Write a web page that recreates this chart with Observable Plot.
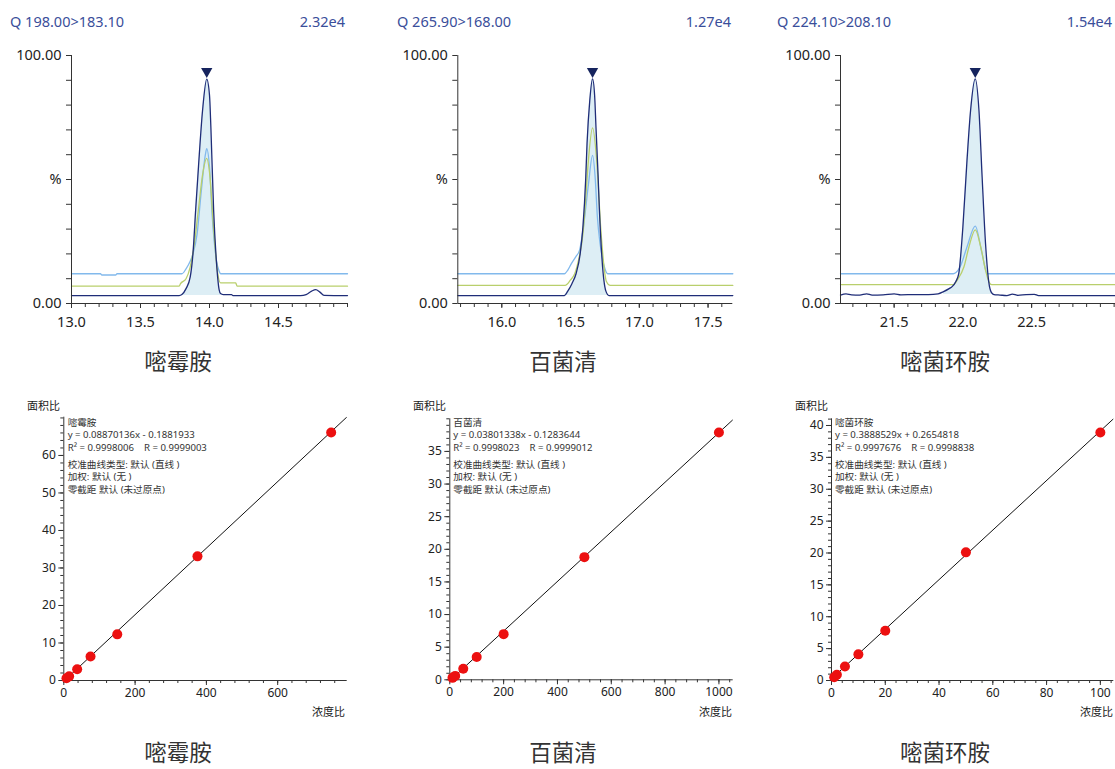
<!DOCTYPE html>
<html><head><meta charset="utf-8">
<script src="https://cdn.jsdelivr.net/npm/d3@7"></script>
<script src="https://cdn.jsdelivr.net/npm/@observablehq/plot@0.6"></script>
<style>
body{margin:0;background:#fff;font-family:"Noto Sans","Noto Sans CJK SC",sans-serif;}
#root{position:relative;width:1115px;height:769px;overflow:hidden;background:#fff;}
.abs{position:absolute;white-space:pre;}
.hdr{font-size:14.5px;color:#3a4e9a;line-height:18px;}
.name{font-size:22.5px;color:#333;line-height:24px;font-family:"Noto Sans CJK SC",sans-serif;}
.ann{font-size:9.6px;color:#333;line-height:12px;}
.axl{font-size:11px;color:#222;line-height:14px;font-family:"Noto Sans CJK SC",sans-serif;}
.wrap{position:absolute;}
</style></head><body><div id="root"></div>
<script>
// ---------- text ----------
const transitions = ["Q 198.00>183.10", "Q 265.90>168.00", "Q 224.10>208.10"];
const maxIntensity = ["2.32e4", "1.27e4", "1.54e4"];
const compounds = ["嘧霉胺", "百菌清", "嘧菌环胺"];
const equations = ["y = 0.08870136x - 0.1881933", "y = 0.03801338x - 0.1283644", "y = 0.3888529x + 0.2654818"];
const rLines = ["R² = 0.9998006    R = 0.9999003", "R² = 0.9998023    R = 0.9999012", "R² = 0.9997676    R = 0.9998838"];
const infoLines = ["校准曲线类型: 默认 (直线 )", "加权: 默认 (无 )", "零截距 默认 (未过原点)"];
const yAxisTitle = "面积比";
const xAxisTitle = "浓度比";

// ---------- chromatograms: [retention time, % intensity] ----------
const rtDomains = [[13.0, 15.0], [15.68, 17.68], [21.11, 23.11]];
const rtMajorTicks = [[13.0, 13.5, 14.0, 14.5], [16.0, 16.5, 17.0, 17.5], [21.5, 22.0, 22.5]];
const pctTicks = [0, 10, 20, 30, 40, 50, 60, 70, 80, 90, 100];

const darkA = [[13.0,3.2],[13.78,3.2],[13.80,3.6],[13.83,6],[13.86,10.6],[13.88,20],[13.90,38],[13.92,55],[13.95,78],[13.98,90.5],[14.00,84],[14.01,71],[14.03,37.5],[14.05,17],[14.07,5.5],[14.08,4.0],[14.10,3.6],[14.16,3.6],[14.17,3.2],[14.66,3.2],[14.70,3.6],[14.74,5.0],[14.77,5.6],[14.80,4.6],[14.83,3.3],[15.0,3.2]];
const lightA = [[13.0,12],[13.21,12],[13.22,11.5],[13.32,11.5],[13.33,12],[13.80,12],[13.83,14],[13.86,17],[13.88,20],[13.91,28],[13.94,45],[13.97,60],[13.98,62.4],[14.00,55],[14.02,35],[14.05,17.5],[14.07,13],[14.08,12],[15.0,12]];
const greenA = [[13.0,7],[13.78,7],[13.79,8],[13.83,10],[13.86,14.7],[13.89,24],[13.92,38],[13.95,52],[13.98,58.5],[14.00,53],[14.03,30],[14.06,12],[14.08,8.3],[14.19,8.3],[14.20,7],[15.0,7]];

const darkB = [[15.68,3.2],[16.455,3.2],[16.48,5],[16.51,8],[16.54,12],[16.57,20],[16.59,30.8],[16.61,50],[16.62,64.5],[16.64,82],[16.66,90.6],[16.675,84],[16.685,71],[16.70,52],[16.71,37.5],[16.73,17],[16.757,5],[16.78,3.2],[17.68,3.2]];
const lightB = [[15.68,12],[16.456,12],[16.48,13.5],[16.505,16],[16.54,19],[16.565,21.4],[16.60,33.6],[16.63,48],[16.66,59.7],[16.68,50],[16.695,35],[16.715,24],[16.73,18.7],[16.75,14],[16.77,12],[17.68,12]];
const greenB = [[15.68,7.3],[16.46,7.3],[16.50,9.5],[16.53,12],[16.56,18],[16.59,28],[16.61,42],[16.63,57.8],[16.66,70.8],[16.69,57.8],[16.72,30],[16.745,14],[16.76,9],[16.79,7.3],[17.68,7.3]];

const darkC = [[21.11,3.4],[21.15,3.9],[21.19,3.5],[21.25,3.4],[21.30,3.9],[21.34,3.4],[21.42,3.5],[21.50,3.9],[21.55,3.5],[21.65,3.6],[21.75,3.6],[21.82,3.9],[21.86,4.8],[21.90,6.0],[21.92,6.7],[21.95,9],[21.97,12],[22.00,30.8],[22.03,57.7],[22.056,77.8],[22.09,90.6],[22.117,77.8],[22.14,51],[22.165,24],[22.19,8],[22.207,4.5],[22.226,3.6],[22.27,3.4],[22.32,3.2],[22.36,3.8],[22.40,3.3],[22.46,3.6],[22.52,3.7],[22.55,3.2],[23.11,3.2]];
const lightC = [[21.11,12],[21.93,12],[21.95,12.5],[21.98,14.8],[22.03,22.8],[22.09,31.2],[22.14,20],[22.177,12],[23.11,12]];
const greenC = [[21.11,7.6],[21.93,7.6],[21.96,9.5],[22.008,14.8],[22.044,22.8],[22.09,29.7],[22.13,22.8],[22.165,13.4],[22.19,8.7],[22.21,7.6],[23.11,7.6]];

const peakWindows = [[13.78, 14.10], [16.455, 16.78], [21.84, 22.226]];
const peakBaselines = [3.2, 3.2, 3.6];
const apexMarks = [[13.98, 93.6], [16.66, 93.6], [22.09, 93.6]];

// ---------- calibration curves ----------
const conc1 = [7.5, 15, 37.5, 75, 150, 375, 750];
const area1 = [0.6, 1.1, 3.0, 6.4, 12.3, 33.1, 66.1];
const conc2 = [10, 20, 50, 100, 200, 500, 1000];
const area2 = [0.3, 0.6, 1.7, 3.5, 7.0, 18.8, 37.9];
const conc3 = [1, 2, 5, 10, 20, 50, 100];
const area3 = [0.5, 0.9, 2.2, 4.1, 7.8, 20.1, 38.9];
const slopes = [0.08870136, 0.03801338, 0.3888529];
const intercepts = [-0.1881933, -0.1283644, 0.2654818];
const calXDomains = [[0, 795], [0, 1053], [0, 105]];
const calYDomains = [[0, 70.2], [0, 40], [0, 41.05]];
const calXMajor = [[0, 200, 400, 600], [0, 200, 400, 600, 800, 1000], [0, 20, 40, 60, 80, 100]];
const calYMajor = [[0, 10, 20, 30, 40, 50, 60], [0, 5, 10, 15, 20, 25, 30, 35], [0, 5, 10, 15, 20, 25, 30, 35, 40]];
const calXMinorStep = [40, 40, 4];
const calYMinorStep = [2, 1, 1];

// ---------- layout ----------
const root = document.getElementById("root");
const FONT = '"Noto Sans","Noto Sans CJK SC",sans-serif';
const DARK = "#1f2d78", LIGHT = "#82b9ec", GREEN = "#b9cf6c", FILL = "#ddeef5";

function place(txt, x, y, anchor, cls) {
  const d = document.createElement("div");
  d.className = "abs " + cls;
  d.textContent = txt;
  d.style.left = x + "px"; d.style.top = y + "px";
  const tx = anchor === "middle" ? "-50%" : anchor === "end" ? "-100%" : "0";
  d.style.transform = `translate(${tx}, -50%)`;
  root.appendChild(d);
}
function mount(svg, left, top) {
  const w = document.createElement("div");
  w.className = "wrap";
  w.style.left = left + "px"; w.style.top = top + "px";
  w.appendChild(svg);
  root.appendChild(w);
}

const chromLayout = [
  {left: 0, width: 360, ml: 71, mr: 13},
  {left: 380, width: 360, ml: 77.3, mr: 7.7},
  {left: 760, width: 355, ml: 80, mr: 0}
];
const traces = [[darkA, lightA, greenA], [darkB, lightB, greenB], [darkC, lightC, greenC]];

function chrom(i) {
  const L = chromLayout[i];
  const [dark, light, green] = traces[i];
  const dom = rtDomains[i];
  const [w0, w1] = peakWindows[i];
  const fillData = dark.filter(d => d[0] >= w0 && d[0] <= w1);
  const minor = d3.range(Math.ceil(dom[0] * 10) / 10, dom[1] + 1e-6, 0.1);
  const X = d => d[0], Y = d => d[1];
  return Plot.plot({
    width: L.width, height: 300,
    marginLeft: L.ml, marginRight: L.mr, marginTop: 15, marginBottom: 37,
    x: {domain: dom, axis: null},
    y: {domain: [0, 100], axis: null},
    style: {fontFamily: FONT, fontSize: "14.5px", color: "#222", background: "transparent", overflow: "visible"},
    marks: [
      Plot.areaY(fillData, {x: X, y1: peakBaselines[i], y2: Y, fill: FILL, curve: "monotone-x"}),
      Plot.line(light, {x: X, y: Y, stroke: LIGHT, strokeWidth: 1.3, curve: "monotone-x"}),
      Plot.line(green, {x: X, y: Y, stroke: GREEN, strokeWidth: 1.3, curve: "monotone-x"}),
      Plot.line(dark, {x: X, y: Y, stroke: DARK, strokeWidth: 1.3, curve: "monotone-x"}),
      Plot.dot([apexMarks[i]], {x: X, y: Y, symbol: "triangle", rotate: 180, r: 4.2, fill: "#16245e", stroke: null}),
      Plot.axisX({ticks: minor, tickSize: 4, tickFormat: () => "", label: null, stroke: "#333"}),
      Plot.axisX({ticks: rtMajorTicks[i], tickSize: 5, tickPadding: 8, tickFormat: d => d.toFixed(1), label: null, stroke: "#333"}),
      Plot.axisY({ticks: pctTicks, tickSize: 5, tickPadding: 5, label: null, stroke: "#333",
        tickFormat: d => d === 100 ? "100.00" : d === 50 ? "%" : d === 0 ? "0.00" : ""}),
      Plot.ruleY([0], {stroke: "#333"}),
      Plot.ruleX([dom[0]], {stroke: "#333"})
    ]
  });
}

const calLayout = [
  {left: 0, width: 360, ml: 63.3, mr: 13.3, mt: 21.7, mb: 45},
  {left: 395, width: 345, ml: 54.3, mr: 7.3, mt: 23.3, mb: 45.7},
  {left: 770, width: 345, ml: 61, mr: 1.7, mt: 23.3, mb: 45}
];
const concs = [conc1, conc2, conc3], areas = [area1, area2, area3];

function cal(i) {
  const L = calLayout[i];
  const xd = calXDomains[i], yd = calYDomains[i];
  const pts = concs[i].map((c, k) => ({c, a: areas[i][k]}));
  const reg = [xd[0], xd[1]].map(c => ({c, a: slopes[i] * c + intercepts[i]}));
  const xMinor = d3.range(0, xd[1] + 1e-6, calXMinorStep[i]);
  const yMinor = d3.range(0, yd[1] + 1e-6, calYMinorStep[i]);
  return Plot.plot({
    width: L.width, height: 330,
    marginLeft: L.ml, marginRight: L.mr, marginTop: L.mt, marginBottom: L.mb,
    x: {domain: xd, axis: null},
    y: {domain: yd, axis: null},
    style: {fontFamily: FONT, fontSize: "12px", color: "#222", background: "transparent", overflow: "visible"},
    marks: [
      Plot.axisX({ticks: xMinor, tickSize: 3, tickFormat: () => "", label: null, stroke: "#333"}),
      Plot.axisX({ticks: calXMajor[i], tickSize: 5, tickPadding: 3, tickFormat: d => String(d), label: null, stroke: "#333"}),
      Plot.axisY({ticks: yMinor, tickSize: 3, tickFormat: () => "", label: null, stroke: "#333"}),
      Plot.axisY({ticks: calYMajor[i], tickSize: 5, tickPadding: 3, tickFormat: d => String(d), label: null, stroke: "#333"}),
      Plot.ruleY([0], {stroke: "#333"}),
      Plot.ruleX([0], {stroke: "#333"}),
      Plot.line(reg, {x: "c", y: "a", stroke: "#111", strokeWidth: 1, clip: true}),
      Plot.dot(pts, {x: "c", y: "a", r: 5, fill: "#ec1010", stroke: null})
    ]
  });
}

for (let i = 0; i < 3; i++) {
  mount(chrom(i), chromLayout[i].left, 40);
  mount(cal(i), calLayout[i].left, 395);
}

// headers and names
const hdrLeft = [10, 397, 777], hdrRight = [345, 731, 1112];
const nameX = [178, 563, 945];
const annX = [67.7, 453.3, 835];
const yTitleX = [27, 413, 795], xTitleX = [345, 732, 1113];
const annY = [423.3, 435.3, 447.5, 465, 477.3, 489.5];
for (let i = 0; i < 3; i++) {
  place(transitions[i], hdrLeft[i], 21, "start", "hdr");
  place(maxIntensity[i], hdrRight[i], 21, "end", "hdr");
  place(compounds[i], nameX[i], 360, "middle", "name");
  place(compounds[i], nameX[i], 751, "middle", "name");
  place(yAxisTitle, yTitleX[i], 405, "start", "axl");
  place(xAxisTitle, xTitleX[i], 711, "end", "axl");
  const lines = [compounds[i], equations[i], rLines[i], ...infoLines];
  lines.forEach((t, k) => place(t, annX[i], annY[k], "start", "ann"));
}
</script>
</body></html>
